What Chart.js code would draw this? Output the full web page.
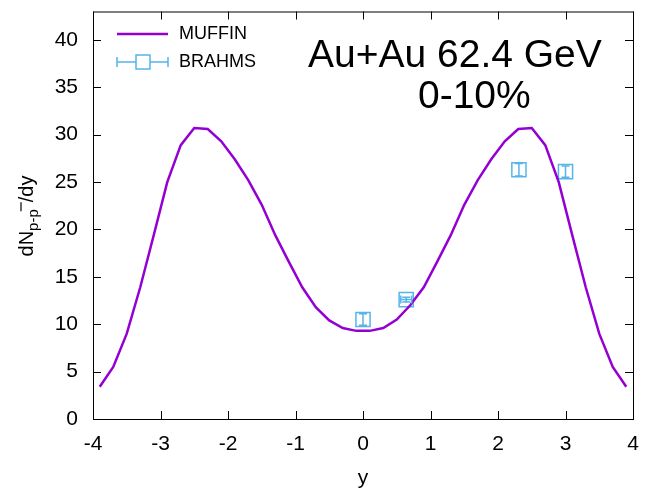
<!DOCTYPE html>
<html>
<head>
<meta charset="utf-8">
<script src="https://cdn.jsdelivr.net/npm/chart.js@4"></script>
<style>
  html, body { margin: 0; padding: 0; background: #fff; }
  #wrap { width: 657px; height: 489px; }
</style>
</head>
<body>
<div id="wrap"><canvas id="chart" width="657" height="489"></canvas></div>
<script>
// MUFFIN curve
const rapidity = [-3.9, -3.7, -3.5, -3.3, -3.1, -2.9, -2.7, -2.5, -2.3, -2.1,
                  -1.9, -1.7, -1.5, -1.3, -1.1, -0.9, -0.7, -0.5, -0.3, -0.1,
                   0.1,  0.3,  0.5,  0.7,  0.9,  1.1,  1.3,  1.5,  1.7,  1.9,
                   2.1,  2.3,  2.5,  2.7,  2.9,  3.1,  3.3,  3.5,  3.7,  3.9];
const muffin = [3.4, 5.5, 9.0, 13.9, 19.4, 25.0, 28.9, 30.7, 30.6, 29.3,
                27.4, 25.2, 22.6, 19.4, 16.6, 13.9, 11.8, 10.4, 9.6, 9.3,
                9.3, 9.6, 10.5, 12.0, 13.9, 16.6, 19.4, 22.6, 25.2, 27.4,
                29.3, 30.6, 30.7, 28.9, 25.0, 19.4, 13.9, 9.0, 5.5, 3.4];

// BRAHMS points
const brahmsRap = [0.0, 0.64, 2.31, 3.0];
const brahmsVal = [10.5, 12.6, 26.3, 26.1];
const brahmsErrY = [0.6, 0.25, 0.65, 0.6];
const brahmsErrX = [0, 0.08, 0, 0];

const xTicks = [-4, -3, -2, -1, 0, 1, 2, 3, 4];
const yTicks = [0, 5, 10, 15, 20, 25, 30, 35, 40];

const purple = '#9400d3';
const blue = '#56b4e9';
const FONT = '"Liberation Sans", Arial, sans-serif';

// frame, inward ticks on all sides, error bars, legend, labels
const extras = {
    id: 'extras',
    afterDatasetsDraw(chart) {
        const ctx = chart.ctx;
        const a = chart.chartArea;
        const xs = chart.scales.x, ys = chart.scales.y;

        // error bars
        ctx.save();
        ctx.strokeStyle = blue;
        ctx.lineWidth = 1.5;
        brahmsRap.forEach((r, i) => {
            const px = xs.getPixelForValue(r);
            const py = ys.getPixelForValue(brahmsVal[i]);
            if (brahmsErrY[i] > 0) {
                const y1 = ys.getPixelForValue(brahmsVal[i] - brahmsErrY[i]);
                const y2 = ys.getPixelForValue(brahmsVal[i] + brahmsErrY[i]);
                ctx.beginPath();
                ctx.moveTo(px, y1); ctx.lineTo(px, y2);
                ctx.moveTo(px - 4, y1); ctx.lineTo(px + 4, y1);
                ctx.moveTo(px - 4, y2); ctx.lineTo(px + 4, y2);
                ctx.stroke();
            }
            if (brahmsErrX[i] > 0) {
                const x1 = xs.getPixelForValue(r - brahmsErrX[i]);
                const x2 = xs.getPixelForValue(r + brahmsErrX[i]);
                ctx.beginPath();
                ctx.moveTo(x1, py); ctx.lineTo(x2, py);
                ctx.moveTo(x1, py - 4); ctx.lineTo(x1, py + 4);
                ctx.moveTo(x2, py - 4); ctx.lineTo(x2, py + 4);
                ctx.stroke();
            }
        });
        ctx.restore();

        // frame + ticks
        ctx.save();
        ctx.strokeStyle = '#000';
        ctx.lineWidth = 1;
        ctx.strokeRect(a.left + 0.5, a.top + 0.5, a.right - a.left, a.bottom - a.top);
        ctx.beginPath();
        xTicks.forEach(v => {
            const px = Math.round(xs.getPixelForValue(v)) + 0.5;
            ctx.moveTo(px, a.bottom); ctx.lineTo(px, a.bottom - 8);
            ctx.moveTo(px, a.top); ctx.lineTo(px, a.top + 8);
        });
        yTicks.forEach(v => {
            const py = Math.round(ys.getPixelForValue(v)) + 0.5;
            ctx.moveTo(a.left, py); ctx.lineTo(a.left + 8, py);
            ctx.moveTo(a.right, py); ctx.lineTo(a.right - 8, py);
        });
        ctx.stroke();
        ctx.restore();

        // legend
        ctx.save();
        ctx.font = '18px ' + FONT;
        ctx.fillStyle = '#000';
        ctx.textBaseline = 'middle';
        ctx.strokeStyle = purple;
        ctx.lineWidth = 2.5;
        ctx.beginPath(); ctx.moveTo(117, 34); ctx.lineTo(168, 34); ctx.stroke();
        ctx.fillText('MUFFIN', 179, 34);
        ctx.strokeStyle = blue;
        ctx.lineWidth = 1.5;
        ctx.beginPath();
        ctx.moveTo(117, 62); ctx.lineTo(168, 62);
        ctx.moveTo(117, 57); ctx.lineTo(117, 67);
        ctx.moveTo(168, 57); ctx.lineTo(168, 67);
        ctx.stroke();
        ctx.fillStyle = '#fff';
        ctx.fillRect(136, 55, 14, 14);
        ctx.strokeRect(136, 55, 14, 14);
        ctx.fillStyle = '#000';
        ctx.fillText('BRAHMS', 179, 62);
        ctx.restore();

        // annotation
        ctx.save();
        ctx.font = '39px ' + FONT;
        ctx.fillStyle = '#000';
        ctx.textBaseline = 'alphabetic';
        ctx.fillText('Au+Au 62.4 GeV', 308, 67);
        ctx.fillText('0-10%', 418, 108);
        ctx.restore();

        // axis titles
        ctx.save();
        ctx.fillStyle = '#000';
        ctx.font = '21px ' + FONT;
        ctx.textAlign = 'center';
        ctx.textBaseline = 'alphabetic';
        ctx.fillText('y', (a.left + a.right) / 2, 484);
        ctx.translate(33, 216);
        ctx.rotate(-Math.PI / 2);
        ctx.textAlign = 'left';
        const main = '20px ' + FONT, sub = '15px ' + FONT;
        ctx.font = main; const w1 = ctx.measureText('dN').width;
        ctx.font = sub; const w2 = ctx.measureText('p-p').width;
        ctx.font = main; const w3 = ctx.measureText('/dy').width;
        const gap = 7;
        let x0 = -(w1 + w2 + gap + w3) / 2;
        ctx.font = main; ctx.fillText('dN', x0, 0); x0 += w1;
        ctx.font = sub; ctx.fillText('p-p', x0, 5);
        // bar over the antiproton, set a little to the right as in the original
        ctx.strokeStyle = '#000';
        ctx.lineWidth = 1.2;
        ctx.beginPath();
        ctx.moveTo(x0 + w2 - 2, -12); ctx.lineTo(x0 + w2 + gap, -12);
        ctx.stroke();
        x0 += w2 + gap;
        ctx.font = main; ctx.fillText('/dy', x0, 0);
        ctx.restore();
    }
};

new Chart(document.getElementById('chart'), {
    type: 'line',
    data: {
        datasets: [
            {
                label: 'MUFFIN',
                data: rapidity.map((r, i) => ({ x: r, y: muffin[i] })),
                borderColor: purple,
                borderWidth: 2.5,
                pointRadius: 0,
                tension: 0,
                fill: false
            },
            {
                label: 'BRAHMS',
                type: 'scatter',
                data: brahmsRap.map((r, i) => ({ x: r, y: brahmsVal[i] })),
                showLine: false,
                pointStyle: 'rect',
                pointRadius: 10,
                borderColor: blue,
                backgroundColor: 'rgba(0,0,0,0)',
                borderWidth: 1.5
            }
        ]
    },
    options: {
        responsive: false,
        animation: false,
        devicePixelRatio: 1,
        layout: { padding: { top: 11, right: 24, left: 0, bottom: 0 } },
        plugins: { legend: { display: false }, tooltip: { enabled: false } },
        scales: {
            x: {
                type: 'linear',
                min: -4, max: 4,
                afterFit: s => { s.height = 70; s.paddingLeft = 0; s.paddingRight = 0; },
                afterBuildTicks: s => { s.ticks = xTicks.map(v => ({ value: v })); },
                grid: { display: false },
                border: { display: false },
                ticks: { color: '#000', font: { size: 21, family: FONT }, padding: 5, maxRotation: 0 }
            },
            y: {
                min: 0, max: 43,
                afterFit: s => { s.width = 93; s.paddingTop = 0; s.paddingBottom = 0; },
                afterBuildTicks: s => { s.ticks = yTicks.map(v => ({ value: v })); },
                grid: { display: false },
                border: { display: false },
                ticks: { color: '#000', font: { size: 21, family: FONT }, padding: 7 }
            }
        }
    },
    plugins: [extras]
});
</script>
</body>
</html>
